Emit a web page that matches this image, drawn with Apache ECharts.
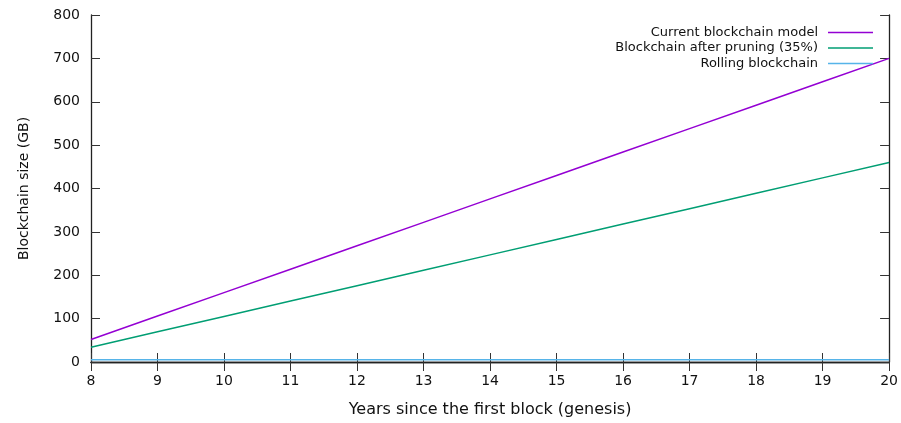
<!DOCTYPE html>
<html>
<head>
<meta charset="utf-8">
<script src="https://cdn.jsdelivr.net/npm/echarts@6/dist/echarts.min.js"></script>
<style>html,body{margin:0;padding:0;background:#fff}#c{width:901px;height:423px}</style>
</head>
<body>
<div id="c"></div>
<script>
var years = [8, 9, 10, 11, 12, 13, 14, 15, 16, 17, 18, 19, 20];
var currentModel = [52, 106, 160, 214, 268, 322, 376, 430, 484, 538, 592, 646, 700];
var afterPruning = [34, 69.5, 105, 140.5, 176, 211.5, 247, 282.5, 318, 353.5, 389, 424.5, 460];
var rolling = [5, 5, 5, 5, 5, 5, 5, 5, 5, 5, 5, 5, 5];
var seriesNames = ['Current blockchain model', 'Blockchain after pruning (35%)', 'Rolling blockchain'];
var seriesColors = ['#9400d3', '#009e73', '#56b4e9'];

function pairs(v) { return years.map(function (y, i) { return [y, v[i]]; }); }

var FONT = 'DejaVu Sans';
var TXT = '#111';
var axisCol = '#222';
var chart = echarts.init(document.getElementById('c'));
var tickStyle = { show: true, inside: true, length: 9, lineStyle: { color: '#333', width: 1 } };
chart.setOption({
  animation: false,
  textStyle: { fontFamily: FONT },
  grid: { left: 91, right: 11, top: 15, bottom: 60 },
  legend: {
    orient: 'vertical', right: 28, top: 26, align: 'right', padding: 0,
    icon: 'rect', itemWidth: 45, itemHeight: 1.5, itemGap: 2.5,
    textStyle: { fontFamily: FONT, fontSize: 13, color: TXT, padding: [0, 5, 0, 0] },
    data: seriesNames
  },
  xAxis: [{
    type: 'value', min: 8, max: 20, interval: 1,
    name: 'Years since the first block (genesis)', nameLocation: 'middle', nameGap: 40,
    nameTextStyle: { fontFamily: FONT, fontSize: 16, color: TXT },
    axisLine: { show: true, lineStyle: { color: axisCol, width: 1.3 } },
    axisTick: tickStyle,
    axisLabel: { fontFamily: FONT, fontSize: 14, color: TXT, margin: 12 },
    splitLine: { show: false }
  }, {
    type: 'value', min: 8, max: 20, interval: 1, position: 'top',
    axisLine: { show: true, lineStyle: { color: axisCol, width: 1.3 } },
    axisTick: tickStyle, axisLabel: { show: false }, splitLine: { show: false }
  }],
  yAxis: [{
    type: 'value', min: 0, max: 800, interval: 100,
    name: 'Blockchain size (GB)', nameLocation: 'middle', nameGap: 60, nameRotate: 90,
    nameTextStyle: { fontFamily: FONT, fontSize: 14, color: TXT },
    axisLine: { show: true, lineStyle: { color: axisCol, width: 1.3 } },
    axisTick: tickStyle,
    axisLabel: { fontFamily: FONT, fontSize: 14, color: TXT, margin: 11 },
    splitLine: { show: false }
  }, {
    type: 'value', min: 0, max: 800, interval: 100, position: 'right',
    axisLine: { show: true, lineStyle: { color: axisCol, width: 1.3 } },
    axisTick: tickStyle, axisLabel: { show: false }, splitLine: { show: false }
  }],
  series: [
    { name: seriesNames[0], type: 'line', data: pairs(currentModel), showSymbol: false, symbol: 'none', lineStyle: { width: 1.5, color: seriesColors[0] }, itemStyle: { color: seriesColors[0] } },
    { name: seriesNames[1], type: 'line', data: pairs(afterPruning), showSymbol: false, symbol: 'none', lineStyle: { width: 1.5, color: seriesColors[1] }, itemStyle: { color: seriesColors[1] } },
    { name: seriesNames[2], type: 'line', data: pairs(rolling), showSymbol: false, symbol: 'none', lineStyle: { width: 1.5, color: seriesColors[2] }, itemStyle: { color: seriesColors[2] } }
  ]
});
</script>
</body>
</html>
